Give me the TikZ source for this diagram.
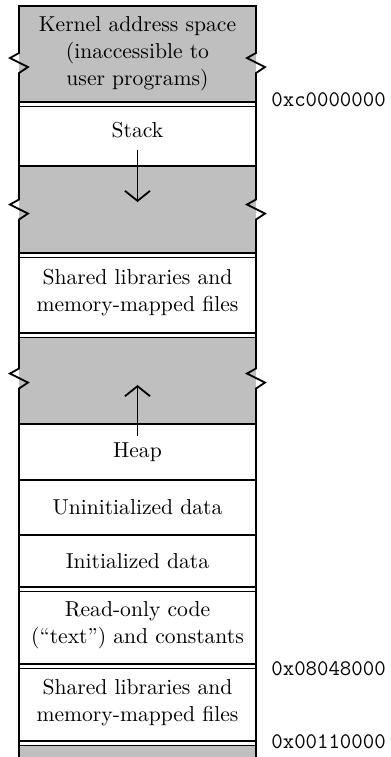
\documentclass[tikz,border=0pt]{standalone}
\usepackage{xcolor}
\usepackage{tikz}
\usetikzlibrary{arrows.meta, positioning, calc}

\definecolor{gris}{gray}{0.75}

\begin{document}
\begin{tikzpicture}[
    font=\fontsize{10.8}{13.5}\selectfont,
    zona/.style={fill=white, minimum width=118.5pt, inner sep=0pt,
                 outer sep=0pt, align=center},
    libre/.style={zona, fill=gris},
    linea/.style={line width=0.9pt},
    fina/.style={line width=0.45pt},
    marco/.style={line width=0.9pt, line cap=rect},
    quiebre/.style={insert path={-- ++(-4.5pt,-2.5pt) -- ++(9pt,-4.5pt)
                                 -- ++(-4.5pt,-3pt)}},
    flecha/.style={line width=0.9pt, -{Straight Barb[length=5pt, width=12.5pt]}},
    dir/.style={font=\fontsize{11.1}{13}\ttfamily, anchor=west, inner sep=0pt,
                xshift=7.5pt}
  ]
  \useasboundingbox (-9.5pt,3pt) rectangle (186pt,-375.5pt);

  % --- Regiones, de arriba abajo ---
  \node[libre, minimum height=48pt, anchor=north west] (kernel) at (0,0)
       {Kernel address space\\(inaccessible to\\user programs)};
  \node[zona, minimum height=32pt, text depth=4.5pt, below=0pt of kernel] (pila)
       {Stack};
  \node[libre, minimum height=43.5pt, below=0pt of pila] (libre1) {};
  \node[zona, minimum height=40pt, below=0pt of libre1] (compart1)
       {Shared libraries and\\memory-mapped files};
  \node[libre, minimum height=45.5pt, below=0pt of compart1] (libre2) {};
  \node[zona, minimum height=28pt, below=0pt of libre2] (monticulo) {Heap};
  \node[zona, minimum height=27.5pt, below=0pt of monticulo] (bss)
       {Uninitialized data};
  \node[zona, minimum height=26pt, below=0pt of bss] (datos) {Initialized data};
  \node[zona, minimum height=38.5pt, below=0pt of datos] (texto)
       {Read-only code\\(“text”) and constants};
  \node[zona, minimum height=38.5pt, below=0pt of texto] (compart2)
       {Shared libraries and\\memory-mapped files};
  \node[libre, minimum height=8pt, below=0pt of compart2] (fondo) {};

  % --- Separaciones dobles y simples ---
  \foreach \r in {pila, compart1, libre2, texto, compart2, fondo} {
    \fill[white] (\r.north west) rectangle ($(\r.north east)+(0,-2.25pt)$);
    \draw[fina] ($(\r.north west)+(0,-2.25pt)$) -- ($(\r.north east)+(0,-2.25pt)$);
  }
  \foreach \r in {pila, libre1, compart1, libre2, monticulo, bss, datos, texto,
                  compart2, fondo}
    \draw[linea] (\r.north west) -- (\r.north east);

  % --- Marco con cortes ---
  \draw[marco] (kernel.north east) -- (kernel.north west)
        -- ($(kernel.west)+(0,0.5pt)$) [quiebre]
        -- ($(libre1.west)+(0,5pt)$) [quiebre]
        -- ($(libre2.west)+(0,5pt)$) [quiebre] -- (fondo.south west);
  \draw[marco] (kernel.north east)
        -- ($(kernel.east)+(0,0.5pt)$) [quiebre]
        -- ($(libre1.east)+(0,5pt)$) [quiebre]
        -- ($(libre2.east)+(0,5pt)$) [quiebre] -- (fondo.south east);

  % --- Crecimiento de pila y monticulo ---
  \draw[flecha] ($(pila.south)+(0,8pt)$) -- ($(libre1.north)+(0,-18pt)$);
  \draw[flecha] ($(monticulo.north)+(0,-6pt)$) -- ($(libre2.south)+(0,19.5pt)$);

  % --- Direcciones ---
  \node[dir, yshift=1pt] (dirkernel) at (kernel.south east) {0xc0000000};
  \node[dir, yshift=-2.5pt] (dirtexto) at (texto.south east) {0x08048000};
  \node[dir, yshift=-0.5pt] (dircompart) at (compart2.south east) {0x00110000};
\end{tikzpicture}
\end{document}
